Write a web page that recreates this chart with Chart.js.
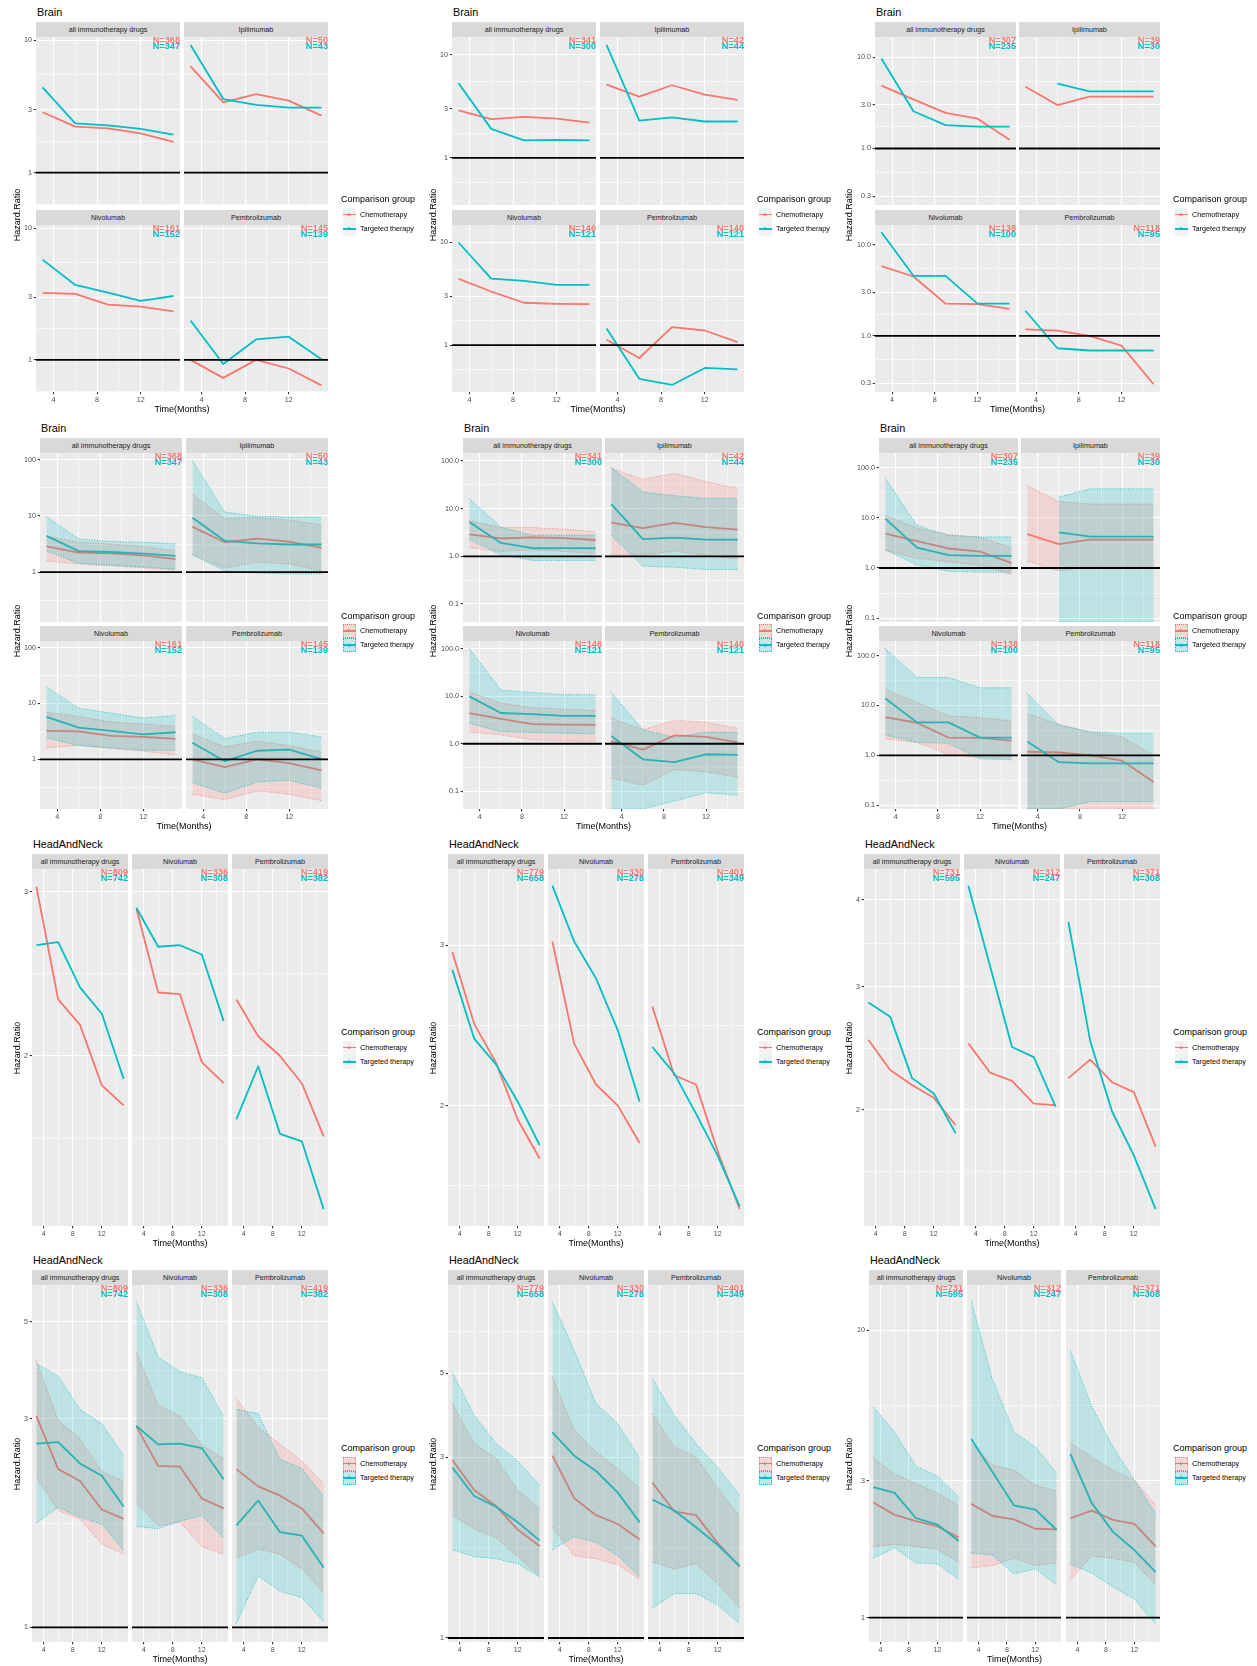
<!DOCTYPE html>
<html lang="en">
<head>
<meta charset="utf-8">
<title>Hazard ratio by month, Brain and HeadAndNeck</title>
<script src="https://cdn.jsdelivr.net/npm/chart.js@4.4.1/dist/chart.umd.min.js"></script>
<style>
  body { margin: 0; background: #ffffff; }
  #page { position: relative; width: 1257px; height: 1666px; overflow: hidden;
          font-family: "Liberation Sans", Arial, Helvetica, sans-serif; }
  #page canvas { position: absolute; }
  .t { position: absolute; white-space: nowrap; line-height: 1; }
  .title { font-size: 10.8px; color: #000; }
  .strip { position: absolute; background: #D9D9D9; color: #1A1A1A; font-size: 7.2px;
           text-align: center; white-space: nowrap; }
  .nlab { font-size: 9.2px; font-weight: bold; }
  .axis-title { font-size: 9px; color: #000; }
  .leg-title { font-size: 9px; color: #000; }
  .leg-text { font-size: 7.2px; color: #000; }
  .key { position: absolute; width: 13px; height: 14px; background: #F2F2F2; }
</style>
</head>
<body>
<div id="page"></div>
<script>
// ---- values ----
const months = [3, 6, 9, 12, 15];
const xTicks = [4, 8, 12];
const xLimits = [2.4, 15.6];
const groups = ['Chemotherapy', 'Targeted therapy'];
const brainFacets = ['all immunotherapy drugs', 'Ipilimumab', 'Nivolumab', 'Pembrolizumab'];
const hnFacets = ['all immunotherapy drugs', 'Nivolumab', 'Pembrolizumab'];

// Brain, first comparison (N: chemo, targeted)
const brain1N = [[368, 347], [50, 43], [161, 152], [145, 139]];
const brain1Chemo = [
  [2.86, 2.23, 2.16, 1.98, 1.71],
  [6.36, 3.40, 3.93, 3.50, 2.70],
  [3.23, 3.17, 2.63, 2.54, 2.34],
  [1.00, 0.73, 1.00, 0.86, 0.64]
];
const brain1Target = [
  [4.41, 2.36, 2.28, 2.14, 1.94],
  [9.22, 3.60, 3.25, 3.10, 3.10],
  [5.78, 3.71, 3.25, 2.81, 3.06],
  [1.99, 0.93, 1.43, 1.50, 1.01]
];
const brain1ChemoLo = [
  [1.59, 1.39, 1.30, 1.19, 1.09],
  [2.03, 1.18, 1.51, 1.39, 1.06],
  [1.61, 1.80, 1.57, 1.41, 1.19],
  [0.239, 0.190, 0.274, 0.239, 0.182]
];
const brain1ChemoHi = [
  [4.35, 3.41, 3.14, 2.86, 2.39],
  [24.3, 8.97, 9.34, 8.38, 6.92],
  [7.00, 5.88, 4.66, 4.30, 3.91],
  [2.86, 1.68, 2.12, 1.77, 1.35]
];
const brain1TargetLo = [
  [2.39, 1.43, 1.33, 1.24, 1.13],
  [2.03, 1.06, 0.96, 0.93, 0.93],
  [2.42, 1.77, 1.61, 1.46, 1.46],
  [0.385, 0.249, 0.396, 0.424, 0.306]
];
const brain1TargetHi = [
  [9.6, 3.91, 3.50, 3.41, 3.18],
  [96, 11.6, 9.9, 9.5, 9.5],
  [20.0, 8.26, 6.74, 5.49, 6.12],
  [5.88, 2.36, 3.06, 3.10, 2.53]
];

// Brain, second comparison
const brain2N = [[341, 300], [42, 44], [146, 121], [140, 121]];
const brain2Chemo = [
  [2.89, 2.37, 2.49, 2.40, 2.20],
  [5.12, 3.92, 5.05, 4.10, 3.64],
  [4.42, 3.33, 2.59, 2.53, 2.51],
  [1.13, 0.75, 1.50, 1.39, 1.07]
];
const brain2Target = [
  [5.28, 1.91, 1.48, 1.49, 1.48],
  [12.4, 2.30, 2.47, 2.25, 2.25],
  [10.0, 4.45, 4.22, 3.86, 3.86],
  [1.45, 0.47, 0.41, 0.60, 0.58]
];
const brain2ChemoLo = [
  [1.52, 1.27, 1.38, 1.27, 1.14],
  [1.10, 1.05, 1.29, 1.05, 0.89],
  [1.76, 1.55, 1.21, 1.16, 1.12],
  [0.19, 0.134, 0.285, 0.255, 0.197]
];
const brain2ChemoHi = [
  [5.56, 4.02, 4.02, 3.71, 3.26],
  [70.5, 41.3, 55.3, 36.9, 26.7],
  [12.5, 7.13, 5.78, 5.34, 5.00],
  [3.45, 1.97, 3.14, 2.85, 2.13]
];
const brain2TargetLo = [
  [2.28, 1.08, 0.82, 0.82, 0.82],
  [2.77, 0.62, 0.59, 0.53, 0.53],
  [2.71, 1.81, 1.73, 1.67, 1.62],
  [0, 0, 0.062, 0.092, 0.082]
];
const brain2TargetHi = [
  [16.4, 4.09, 2.77, 2.77, 2.77],
  [72.8, 22.4, 18.7, 16.4, 16.4],
  [101.6, 13.6, 12.1, 10.8, 10.8],
  [12.1, 1.97, 1.36, 1.76, 1.73]
];

// Brain, third comparison
const brain3N = [[307, 235], [39, 30], [138, 100], [118, 95]];
const brain3Chemo = [
  [4.87, 3.45, 2.45, 2.12, 1.25],
  [4.75, 2.99, 3.69, 3.69, 3.69],
  [5.84, 4.50, 2.26, 2.24, 1.98],
  [1.18, 1.14, 1.00, 0.78, 0.293]
];
const brain3Target = [
  [9.67, 2.56, 1.80, 1.74, 1.74],
  [null, 5.12, 4.22, 4.22, 4.22],
  [13.8, 4.58, 4.58, 2.26, 2.26],
  [1.89, 0.73, 0.69, 0.69, 0.69]
];
const brain3ChemoLo = [
  [2.21, 1.58, 1.32, 1.13, 0.74],
  [1.36, 0.88, 1.08, 1.08, 1.08],
  [2.12, 1.82, 1.05, 0.90, 0.90],
  [0, 0, 0, 0, 0]
];
const brain3ChemoHi = [
  [11.2, 6.25, 4.61, 4.14, 2.50],
  [43.5, 21.2, 18.8, 18.8, 18.8],
  [21.2, 11.5, 6.21, 5.67, 4.94],
  [6.92, 4.17, 2.88, 2.36, 1.00]
];
const brain3TargetLo = [
  [2.32, 1.16, 0.86, 0.83, 0.83],
  [null, 0, 0, 0, 0],
  [2.55, 1.82, 1.74, 0.85, 0.81],
  [0, 0, 0.118, 0.118, 0.118]
];
const brain3TargetHi = [
  [61.9, 7.07, 4.47, 4.14, 4.20],
  [null, 25.9, 38, 38, 38],
  [138, 36.3, 36.3, 22.6, 22.6],
  [17.4, 4.04, 2.97, 2.75, 2.75]
];

// HeadAndNeck, first comparison
const hn1N = [[809, 742], [336, 308], [419, 382]];
const hn1Chemo = [
  [3.04, 2.30, 2.16, 1.86, 1.77],
  [2.88, 2.34, 2.33, 1.97, 1.87],
  [2.30, 2.10, 2.00, 1.87, 1.64]
];
const hn1Target = [
  [2.63, 2.65, 2.37, 2.22, 1.89],
  [2.885, 2.62, 2.63, 2.57, 2.18],
  [1.71, 1.95, 1.65, 1.62, 1.37]
];
const hn1ChemoLo = [
  [2.20, 1.85, 1.77, 1.55, 1.47],
  [1.92, 1.71, 1.74, 1.53, 1.47],
  [1.44, 1.51, 1.47, 1.36, 1.20]
];
const hn1ChemoHi = [
  [4.08, 2.97, 2.70, 2.27, 2.16],
  [4.26, 3.22, 3.04, 2.61, 2.43],
  [3.33, 2.87, 2.62, 2.40, 2.13]
];
const hn1TargetLo = [
  [1.73, 1.88, 1.79, 1.72, 1.50],
  [1.70, 1.68, 1.75, 1.80, 1.60],
  [1.02, 1.31, 1.21, 1.17, 1.03]
];
const hn1TargetHi = [
  [4.01, 3.75, 3.15, 2.92, 2.47],
  [5.55, 4.15, 3.84, 3.72, 3.03],
  [3.15, 3.08, 2.42, 2.31, 1.99]
];

// HeadAndNeck, second comparison
const hn2N = [[779, 658], [330, 278], [401, 349]];
const hn2Chemo = [
  [2.95, 2.46, 2.23, 1.93, 1.75],
  [3.03, 2.34, 2.11, 2.00, 1.82],
  [2.57, 2.16, 2.11, 1.78, 1.54]
];
const hn2Target = [
  [2.82, 2.37, 2.22, 2.02, 1.81],
  [3.49, 3.03, 2.76, 2.42, 2.02],
  [2.32, 2.17, 1.96, 1.76, 1.55]
];
const hn2ChemoLo = [
  [2.11, 1.94, 1.84, 1.64, 1.46],
  [1.96, 1.65, 1.62, 1.56, 1.43],
  [1.59, 1.52, 1.57, 1.39, 1.20]
];
const hn2ChemoHi = [
  [4.16, 3.26, 2.98, 2.45, 2.20],
  [4.89, 3.54, 3.10, 2.80, 2.48],
  [3.91, 3.19, 3.01, 2.48, 2.09]
];
const hn2TargetLo = [
  [1.71, 1.64, 1.62, 1.57, 1.45],
  [1.71, 1.85, 1.79, 1.65, 1.45],
  [1.20, 1.31, 1.31, 1.22, 1.09]
];
const hn2TargetHi = [
  [5.02, 3.87, 3.26, 2.93, 2.53],
  [7.71, 5.75, 4.16, 3.68, 2.98],
  [4.84, 3.87, 3.26, 2.82, 2.38]
];

// HeadAndNeck, third comparison
const hn3N = [[731, 595], [312, 247], [371, 308]];
const hn3Chemo = [
  [2.52, 2.28, 2.17, 2.08, 1.90],
  [2.49, 2.26, 2.20, 2.04, 2.03],
  [2.22, 2.36, 2.19, 2.12, 1.77]
];
const hn3Target = [
  [2.85, 2.72, 2.22, 2.11, 1.85],
  [4.19, 3.21, 2.46, 2.38, 2.02],
  [3.72, 2.51, 1.99, 1.72, 1.44]
];
const hn3ChemoLo = [
  [1.77, 1.80, 1.77, 1.73, 1.56],
  [1.49, 1.52, 1.61, 1.52, 1.55],
  [1.35, 1.64, 1.61, 1.56, 1.30]
];
const hn3ChemoHi = [
  [3.61, 3.16, 2.93, 2.72, 2.46],
  [4.04, 3.40, 3.26, 2.89, 2.76],
  [4.06, 3.63, 3.26, 3.01, 2.46]
];
const hn3TargetLo = [
  [1.61, 1.75, 1.55, 1.54, 1.36],
  [1.68, 1.65, 1.42, 1.48, 1.30],
  [1.54, 1.43, 1.28, 1.16, 0.95]
];
const hn3TargetHi = [
  [5.42, 4.43, 3.37, 3.11, 2.63],
  [12.7, 6.71, 4.43, 3.93, 3.19],
  [8.54, 5.45, 3.93, 3.01, 2.30]
];

// y axis breaks and their printed labels
const ticks1310 = [1, 3, 10], labels1310 = ['1', '3', '10'];
const ticksB3 = [0.3, 1, 3, 10], labelsB3 = ['0.3', '1.0', '3.0', '10.0'];
const ticksCi1 = [1, 10, 100], labelsCi1 = ['1', '10', '100'];
const ticksCi2 = [0.1, 1, 10, 100], labelsCi2 = ['0.1', '1.0', '10.0', '100.0'];
const ticksHn = [2, 3], labelsHn = ['2', '3'];
const ticksHn3 = [2, 3, 4], labelsHn3 = ['2', '3', '4'];
const ticksHnCi = [1, 3, 5], labelsHnCi = ['1', '3', '5'];

// ---- styling / layout ----
const FONT = '"Liberation Sans", Arial, Helvetica, sans-serif';
const colors = ['#F8766D', '#00BFC4'];
const fills = ['rgba(248,118,109,0.2)', 'rgba(0,191,196,0.2)'];
const yTitleX = [16.7, 432.7, 849];
const legendX = [341, 757, 1173];
const YW = 30, XH = 14;

const panels = [
  { title: 'Brain', facets: brainFacets, n: brain1N, chemo: brain1Chemo, target: brain1Target, ci: null,
    ticks: ticks1310, labels: labels1310, yRange: [0.57, 10.6], col: 0,
    fx: [36, 184], fw: 144, rows: [[22, 37, 205], [210, 225, 392]] },
  { title: 'Brain', facets: brainFacets, n: brain2N, chemo: brain2Chemo, target: brain2Target, ci: null,
    ticks: ticks1310, labels: labels1310, yRange: [0.35, 14.8], col: 1,
    fx: [452, 600], fw: 144, rows: [[22, 37, 205], [210, 225, 392]] },
  { title: 'Brain', facets: brainFacets, n: brain3N, chemo: brain3Chemo, target: brain3Target, ci: null,
    ticks: ticksB3, labels: labelsB3, yRange: [0.241, 16.6], col: 2,
    fx: [875, 1019], fw: 141, rows: [[22, 37, 205], [210, 225, 392]] },
  { title: 'Brain', facets: brainFacets, n: brain1N, chemo: brain1Chemo, target: brain1Target,
    ci: { chemoLo: brain1ChemoLo, chemoHi: brain1ChemoHi, targetLo: brain1TargetLo, targetHi: brain1TargetHi },
    ticks: ticksCi1, labels: labelsCi1, yRange: [0.13, 131], col: 0,
    fx: [40, 186], fw: 142, rows: [[438, 453, 622], [626, 641, 809]] },
  { title: 'Brain', facets: brainFacets, n: brain2N, chemo: brain2Chemo, target: brain2Target,
    ci: { chemoLo: brain2ChemoLo, chemoHi: brain2ChemoHi, targetLo: brain2TargetLo, targetHi: brain2TargetHi },
    ticks: ticksCi2, labels: labelsCi2, yRange: [0.042, 147], col: 1,
    fx: [463, 605], fw: 139, rows: [[438, 453, 622], [626, 641, 809]] },
  { title: 'Brain', facets: brainFacets, n: brain3N, chemo: brain3Chemo, target: brain3Target,
    ci: { chemoLo: brain3ChemoLo, chemoHi: brain3ChemoHi, targetLo: brain3TargetLo, targetHi: brain3TargetHi },
    ticks: ticksCi2, labels: labelsCi2, yRange: [0.084, 196], col: 2,
    fx: [879, 1021], fw: 139, rows: [[438, 453, 622], [626, 641, 809]] },
  { title: 'HeadAndNeck', facets: hnFacets, n: hn1N, chemo: hn1Chemo, target: hn1Target, ci: null,
    ticks: ticksHn, labels: labelsHn, yRange: [1.314, 3.175], col: 0,
    fx: [32, 132, 232], fw: 96, rows: [[854, 869, 1226]] },
  { title: 'HeadAndNeck', facets: hnFacets, n: hn2N, chemo: hn2Chemo, target: hn2Target, ci: null,
    ticks: ticksHn, labels: labelsHn, yRange: [1.475, 3.64], col: 1,
    fx: [448, 548, 648], fw: 96, rows: [[854, 869, 1226]] },
  { title: 'HeadAndNeck', facets: hnFacets, n: hn3N, chemo: hn3Chemo, target: hn3Target, ci: null,
    ticks: ticksHn3, labels: labelsHn3, yRange: [1.362, 4.43], col: 2,
    fx: [864, 964, 1064], fw: 96, rows: [[854, 869, 1226]] },
  { title: 'HeadAndNeck', facets: hnFacets, n: hn1N, chemo: hn1Chemo, target: hn1Target,
    ci: { chemoLo: hn1ChemoLo, chemoHi: hn1ChemoHi, targetLo: hn1TargetLo, targetHi: hn1TargetHi },
    ticks: ticksHnCi, labels: labelsHnCi, yRange: [0.926, 6.06], col: 0,
    fx: [32, 132, 232], fw: 96, rows: [[1270, 1285, 1642]] },
  { title: 'HeadAndNeck', facets: hnFacets, n: hn2N, chemo: hn2Chemo, target: hn2Target,
    ci: { chemoLo: hn2ChemoLo, chemoHi: hn2ChemoHi, targetLo: hn2TargetLo, targetHi: hn2TargetHi },
    ticks: ticksHnCi, labels: labelsHnCi, yRange: [0.976, 8.55], col: 1,
    fx: [448, 548, 648], fw: 96, rows: [[1270, 1285, 1642]] },
  { title: 'HeadAndNeck', facets: hnFacets, n: hn3N, chemo: hn3Chemo, target: hn3Target,
    ci: { chemoLo: hn3ChemoLo, chemoHi: hn3ChemoHi, targetLo: hn3TargetLo, targetHi: hn3TargetHi },
    ticks: ticks1310, labels: labels1310, yRange: [0.823, 14.4], col: 2,
    fx: [869, 967, 1066], fw: 94, rows: [[1270, 1285, 1642]] }
];

const page = document.getElementById('page');

// minor breaks sit halfway between majors, on the axis' own scale
function minors(majors, toT, fromT) {
  const t = majors.map(toT);
  const ext = [2 * t[0] - t[1], ...t, 2 * t[t.length - 1] - t[t.length - 2]];
  const out = [];
  for (let i = 0; i < ext.length - 1; i++) out.push(fromT((ext[i] + ext[i + 1]) / 2));
  return out;
}
const xGrid = [...xTicks, ...minors(xTicks, v => v, v => v)]
  .filter(v => v >= xLimits[0] && v <= xLimits[1]).sort((a, b) => a - b);

const panelBg = {
  id: 'panelBg',
  beforeDraw(chart) {
    const a = chart.chartArea, c = chart.ctx;
    c.save();
    c.fillStyle = '#EBEBEB';
    c.fillRect(a.left, a.top, a.right - a.left, a.bottom - a.top);
    c.restore();
  }
};

// fixed axis size, and no extra room for labels at the ends
function pinAxis(s, size, vertical) {
  if (vertical) s.width = size; else s.height = size;
  s.paddingTop = 0; s.paddingBottom = 0; s.paddingLeft = 0; s.paddingRight = 0;
}

function drawFacet(p, i, fx, top, w, h, isLeft, isBottom) {
  const lw = isLeft ? YW : 0, bh = isBottom ? XH : 0;
  const cv = document.createElement('canvas');
  cv.width = w + lw; cv.height = h + bh;
  cv.style.left = (fx - lw) + 'px'; cv.style.top = top + 'px';
  cv.style.width = (w + lw) + 'px'; cv.style.height = (h + bh) + 'px';
  page.appendChild(cv);

  const [yMin, yMax] = p.yRange;
  const yGrid = [...p.ticks, ...minors(p.ticks, Math.log10, v => Math.pow(10, v))]
    .filter(v => v >= yMin && v <= yMax).sort((a, b) => a - b);
  const isMajY = v => p.ticks.includes(v);
  // a lower bound of 0 is drawn on the panel floor, as ggplot does with -Inf
  const pts = (arr, floor) => months
    .map((m, k) => ({ x: m, y: arr[k] }))
    .filter(pt => pt.y !== null)
    .map(pt => (floor && !(pt.y > 0) ? { x: pt.x, y: yMin } : pt));

  const base = { pointRadius: 0, pointHoverRadius: 0, tension: 0, borderJoinStyle: 'round', clip: 0, fill: false };
  const ds = [];
  ds.push({ ...base, data: [{ x: xLimits[0], y: 1 }, { x: xLimits[1], y: 1 }], borderColor: '#000000', borderWidth: 1.8 });
  if (p.ci) {
    [[1, p.ci.targetHi, p.ci.targetLo], [0, p.ci.chemoHi, p.ci.chemoLo]].forEach(([g, hi, lo]) => {
      ds.push({ ...base, data: pts(hi[i], true), fill: '+1', backgroundColor: fills[g],
                borderColor: colors[g], borderWidth: 0.8, borderDash: [1, 1.6] });
      ds.push({ ...base, data: pts(lo[i], true), borderColor: colors[g], borderWidth: 0.8, borderDash: [1, 1.6] });
    });
  }
  ds.push({ ...base, data: pts(p.target[i]), borderColor: colors[1], borderWidth: 1.8 });
  ds.push({ ...base, data: pts(p.chemo[i]), borderColor: colors[0], borderWidth: 1.8 });

  const tickFont = { family: FONT, size: 7.2 };
  new Chart(cv, {
    type: 'line',
    data: { datasets: ds },
    plugins: [panelBg],
    options: {
      responsive: false, animation: false, events: [],
      layout: { padding: 0, autoPadding: false },
      plugins: { legend: { display: false }, tooltip: { enabled: false } },
      scales: {
        x: {
          type: 'linear', min: xLimits[0], max: xLimits[1], bounds: 'data', position: 'bottom',
          afterBuildTicks: s => { s.ticks = xGrid.map(v => ({ value: v })); },
          afterFit: s => pinAxis(s, bh, false),
          border: { display: false },
          grid: {
            color: '#FFFFFF', drawTicks: isBottom, tickLength: 2.3, tickWidth: 1.1,
            lineWidth: c => (c.tick && xTicks.includes(c.tick.value) ? 1.1 : 0.55),
            tickColor: c => (c.tick && xTicks.includes(c.tick.value) ? '#333333' : 'rgba(0,0,0,0)')
          },
          ticks: {
            display: isBottom, autoSkip: false, maxRotation: 0, padding: 1.2, color: '#4D4D4D', font: tickFont,
            callback: v => (xTicks.includes(v) ? String(v) : '')
          }
        },
        y: {
          type: 'logarithmic', min: yMin, max: yMax, bounds: 'data', position: 'left',
          afterBuildTicks: s => { s.ticks = yGrid.map(v => ({ value: v })); },
          afterFit: s => pinAxis(s, lw, true),
          border: { display: false },
          grid: {
            color: '#FFFFFF', drawTicks: isLeft, tickLength: 2.3, tickWidth: 1.1,
            lineWidth: c => (c.tick && isMajY(c.tick.value) ? 1.1 : 0.55),
            tickColor: c => (c.tick && isMajY(c.tick.value) ? '#333333' : 'rgba(0,0,0,0)')
          },
          ticks: {
            display: isLeft, autoSkip: false, padding: 1.6, color: '#4D4D4D', font: tickFont,
            callback: v => { const k = p.ticks.indexOf(v); return k >= 0 ? p.labels[k] : ''; }
          }
        }
      }
    }
  });
}

function addText(str, cls, x, y, centered) {
  const d = document.createElement('div');
  d.className = 't ' + cls;
  d.textContent = str;
  d.style.left = x + 'px';
  d.style.top = y + 'px';
  d.style.transform = centered ? 'translate(-50%, -50%)' : 'translateY(-50%)';
  page.appendChild(d);
  return d;
}

function addRight(str, cls, right, y, color) {
  const d = document.createElement('div');
  d.className = 't ' + cls;
  d.textContent = str;
  d.style.right = (1257 - right) + 'px';
  d.style.top = y + 'px';
  d.style.transform = 'translateY(-50%)';
  d.style.color = color;
  page.appendChild(d);
}

function addStrip(str, x, y, w, h) {
  const d = document.createElement('div');
  d.className = 'strip';
  d.textContent = str;
  d.style.left = x + 'px'; d.style.top = y + 'px';
  d.style.width = w + 'px'; d.style.height = h + 'px';
  d.style.lineHeight = h + 'px';
  page.appendChild(d);
}

function drawLegend(p, midY) {
  const lx = legendX[p.col];
  addText('Comparison group', 'leg-title', lx, midY - 15.5);
  groups.forEach((g, k) => {
    const cy = midY + k * 14.3;
    const key = document.createElement('div');
    key.className = 'key';
    key.style.left = (lx + 1.5) + 'px';
    key.style.top = (cy - 7) + 'px';
    if (p.ci) {
      const f = document.createElement('div');
      f.style.cssText = 'position:absolute;left:0;top:0;right:0;bottom:0;box-sizing:border-box;' +
        'background:' + fills[k] + ';border:1px dotted ' + colors[k] + ';';
      key.appendChild(f);
    }
    const ln = document.createElement('div');
    ln.style.cssText = 'position:absolute;left:0;right:0;top:6.2px;height:1.6px;background:' + colors[k] + ';';
    key.appendChild(ln);
    const a = document.createElement('div');
    a.textContent = 'a';
    a.style.cssText = 'position:absolute;left:0;right:0;top:4.4px;text-align:center;font-size:5px;' +
      'line-height:5px;font-weight:bold;color:' + colors[k] + ';';
    key.appendChild(a);
    page.appendChild(key);
    addText(g, 'leg-text', lx + 19, cy);
  });
}

panels.forEach(p => {
  const nCols = p.fx.length, nRows = p.rows.length;
  p.facets.forEach((name, i) => {
    const r = Math.floor(i / nCols), c = i % nCols;
    const [, pTop, pBot] = p.rows[r];
    drawFacet(p, i, p.fx[c], pTop, p.fw, pBot - pTop, c === 0, r === nRows - 1);
  });
});

panels.forEach(p => {
  const nCols = p.fx.length, nRows = p.rows.length;
  const x0 = p.fx[0], x1 = p.fx[nCols - 1] + p.fw;
  const top0 = p.rows[0][1], bot = p.rows[nRows - 1][2];
  const midY = (top0 + bot) / 2;
  addText(p.title, 'title', x0 + 1, p.rows[0][0] - 10);
  p.facets.forEach((name, i) => {
    const r = Math.floor(i / nCols), c = i % nCols;
    const [sTop, pTop] = p.rows[r];
    const fx = p.fx[c];
    addStrip(name, fx, sTop, p.fw, pTop - sTop);
    addRight('N=' + p.n[i][0], 'nlab', fx + p.fw, pTop + 3.8, colors[0]);
    addRight('N=' + p.n[i][1], 'nlab', fx + p.fw, pTop + 10, colors[1]);
  });
  const yt = addText('Hazard.Ratio', 'axis-title', yTitleX[p.col], midY, true);
  yt.style.transform = 'translate(-50%, -50%) rotate(-90deg)';
  addText('Time(Months)', 'axis-title', (x0 + x1) / 2, bot + 17, true);
  drawLegend(p, midY);
});
</script>
</body>
</html>
